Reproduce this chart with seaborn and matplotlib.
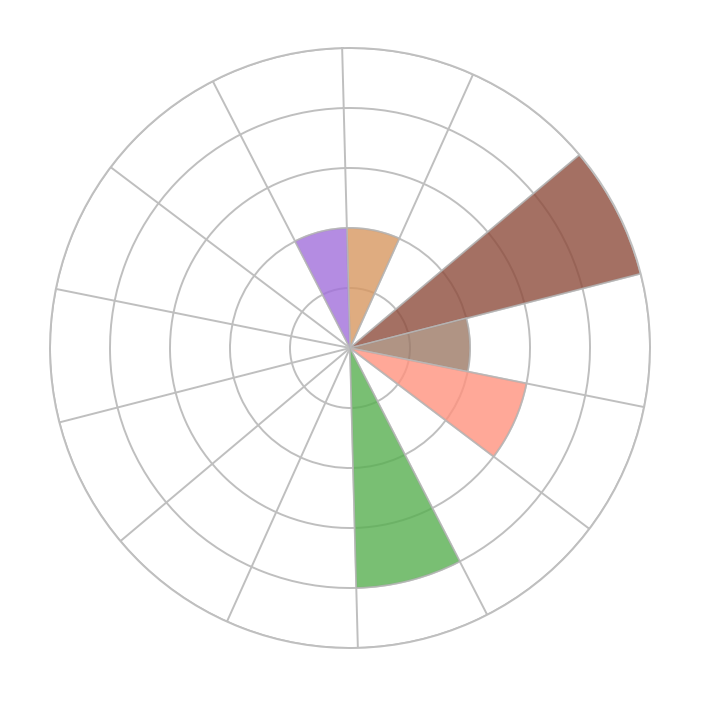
import numpy as np
import matplotlib
matplotlib.use("Agg")
import matplotlib.pyplot as plt
import seaborn as sns

# 14 sectors, clockwise from north
sectors = [f"S{i+1}" for i in range(14)]
values = [2, 0, 5, 2, 3, 0, 4, 0, 0, 0, 0, 0, 0, 2]
colors = ["#d89760", "#cccccc", "#8e4c3c", "#9c7966", "#ff927e", "#cccccc",
          "#57af50", "#cccccc", "#cccccc", "#cccccc", "#cccccc", "#cccccc",
          "#cccccc", "#a16fdb"]
rings = [1, 2, 3, 4, 5]

sns.set_style("white")
grid_col = "#bfbfbf"

fig = plt.figure(figsize=(7.01, 7.01), dpi=100)
ax = fig.add_axes([50 / 701, 53 / 701, 600 / 701, 600 / 701], projection="polar")
ax.set_theta_zero_location("N", offset=1.5)
ax.set_theta_direction(-1)

n = len(sectors)
width = 2 * np.pi / n
theta = np.arange(n) * width + width / 2
ax.bar(theta, values, width=width, color=colors, alpha=0.8,
       edgecolor="#b8b8b8", linewidth=1.2, zorder=2)

ax.set_ylim(0, 5)
ax.set_rgrids(rings, labels=[""] * len(rings))
ax.set_thetagrids(np.degrees(np.arange(n) * width), labels=[""] * n)
ax.grid(True, color=grid_col, linewidth=1.4)
ax.set_axisbelow(True)
ax.spines["polar"].set_color(grid_col)
ax.spines["polar"].set_linewidth(1.4)
ax.tick_params(length=0)

fig.savefig("out.png", dpi=100, facecolor="white")
